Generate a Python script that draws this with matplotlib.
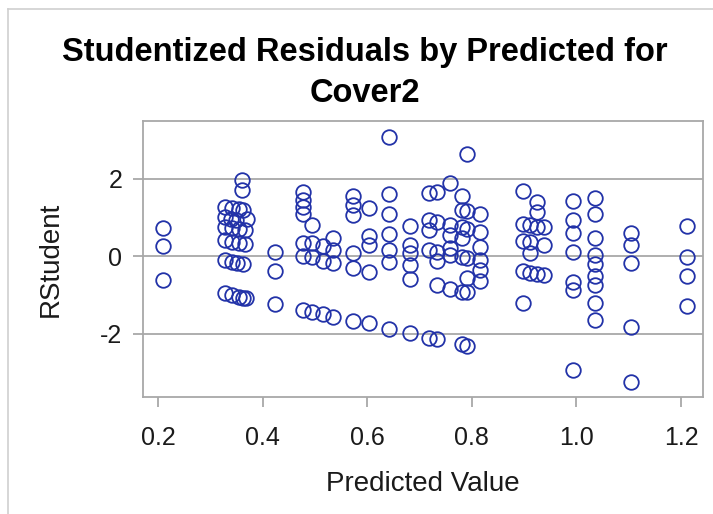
import matplotlib.pyplot as plt
from matplotlib.lines import Line2D

plt.rcParams['font.family'] = ['Liberation Sans', 'DejaVu Sans']
plt.rcParams['axes.unicode_minus'] = False

# predicted value / studentized residual pairs, grouped by predicted value
predicted = (
    [0.21] * 3
    + [0.36, 0.36]
    + [0.328, 0.341, 0.354, 0.363]
    + [0.328, 0.339, 0.349, 0.370]
    + [0.328, 0.341, 0.354, 0.366]
    + [0.328, 0.341, 0.354, 0.366]
    + [0.328, 0.341, 0.351, 0.363]
    + [0.328, 0.341, 0.354, 0.363, 0.368]
    + [0.424] * 3
    + [0.476] * 7
    + [0.494] * 4
    + [0.515] * 3
    + [0.535] * 4
    + [0.572] * 6
    + [0.604] * 5
    + [0.642] * 7
    + [0.682] * 6
    + [0.717] * 5
    + [0.733] * 6
    + [0.758] * 6
    + [0.781] * 7
    + [0.790] * 7
    + [0.816] * 6
    + [0.898] * 5
    + [0.911] * 4
    + [0.925] * 4
    + [0.938] * 3
    + [0.994] * 7
    + [1.036] * 9
    + [1.104] * 5
    + [1.212] * 4
)
rstudent = (
    [0.72, 0.26, -0.62]
    + [1.96, 1.71]
    + [1.27, 1.23, 1.21, 1.19]
    + [1.02, 0.97, 0.93, 0.95]
    + [0.76, 0.72, 0.69, 0.67]
    + [0.41, 0.37, 0.33, 0.30]
    + [-0.10, -0.15, -0.17, -0.21]
    + [-0.95, -1.01, -1.05, -1.09, -1.08]
    + [0.11, -0.39, -1.24]
    + [1.66, 1.45, 1.27, 1.10, 0.34, 0.00, -1.38]
    + [0.80, 0.33, -0.03, -1.44]
    + [0.26, -0.12, -1.50]
    + [0.47, 0.17, -0.19, -1.57]
    + [1.55, 1.32, 1.06, 0.09, -0.32, -1.67]
    + [1.23, 0.52, 0.28, -0.40, -1.74]
    + [3.08, 1.60, 1.10, 0.57, 0.16, -0.15, -1.88]
    + [0.78, 0.28, 0.09, -0.23, -0.60, -1.98]
    + [1.62, 0.93, 0.67, 0.16, -2.12]
    + [1.66, 0.88, 0.10, -0.12, -0.74, -2.15]
    + [1.89, 0.80, 0.54, 0.22, 0.02, -0.85]
    + [1.55, 1.19, 0.76, 0.46, -0.02, -0.92, -2.28]
    + [2.65, 1.17, 0.69, -0.06, -0.56, -0.92, -2.32]
    + [1.09, 0.63, 0.24, -0.10, -0.35, -0.65]
    + [1.69, 0.84, 0.40, -0.38, -1.22]
    + [0.80, 0.37, 0.09, -0.43]
    + [1.40, 1.14, 0.76, -0.45]
    + [0.74, 0.28, -0.49]
    + [1.43, 0.93, 0.59, 0.11, -0.66, -0.88, -2.93]
    + [1.49, 1.09, 0.47, 0.03, -0.21, -0.52, -0.75, -1.22, -1.64]
    + [0.60, 0.28, -0.19, -1.83, -3.25]
    + [0.78, -0.03, -0.52, -1.29]
)
x_ticks = [0.2, 0.4, 0.6, 0.8, 1.0, 1.2]
x_tick_labels = ['0.2', '0.4', '0.6', '0.8', '1.0', '1.2']
y_ticks = [-2, 0, 2]

frame_gray = '#a8a8a8'
text_color = '#1a1a1a'

fig = plt.figure(figsize=(7.13, 5.14), dpi=100)
ax = fig.add_axes([0.2006, 0.2276, 0.7854, 0.537])

for y in y_ticks:
    ax.axhline(y, color=frame_gray, linewidth=1.3, zorder=1)

ax.plot(predicted, rstudent, linestyle='none', marker='o', markersize=10.5,
        markerfacecolor='none', markeredgecolor='#2232a8',
        markeredgewidth=1.3, zorder=3)

ax.set_xlim(0.171, 1.242)
ax.set_ylim(-3.64, 3.49)
ax.set_xticks(x_ticks)
ax.set_xticklabels(x_tick_labels)
ax.set_yticks(y_ticks)

for side in ax.spines.values():
    side.set_color(frame_gray)
    side.set_linewidth(1.3)
ax.tick_params(axis='both', colors=frame_gray, length=7, width=1.3,
               labelcolor=text_color, labelsize=18)
ax.tick_params(axis='x', pad=14)
ax.tick_params(axis='y', pad=8)

ax.set_xlabel('Predicted Value', fontsize=20, color=text_color, labelpad=15)
ax.set_ylabel('RStudent', fontsize=20, color=text_color, labelpad=26)

fig.text(0.512, 0.858, 'Studentized Residuals by Predicted for\nCover2',
         ha='center', va='center', fontsize=23.5, fontweight='bold',
         color='black', linespacing=1.42)

# thin outer frame along the left and top edges
fig.add_artist(Line2D([8 / 713, 8 / 713], [0, 1 - 9 / 514],
                      transform=fig.transFigure, color='#cfcfcf', linewidth=1.2))
fig.add_artist(Line2D([8 / 713, 1], [1 - 9 / 514, 1 - 9 / 514],
                      transform=fig.transFigure, color='#cfcfcf', linewidth=1.2))

fig.savefig('out.png', dpi=100)
